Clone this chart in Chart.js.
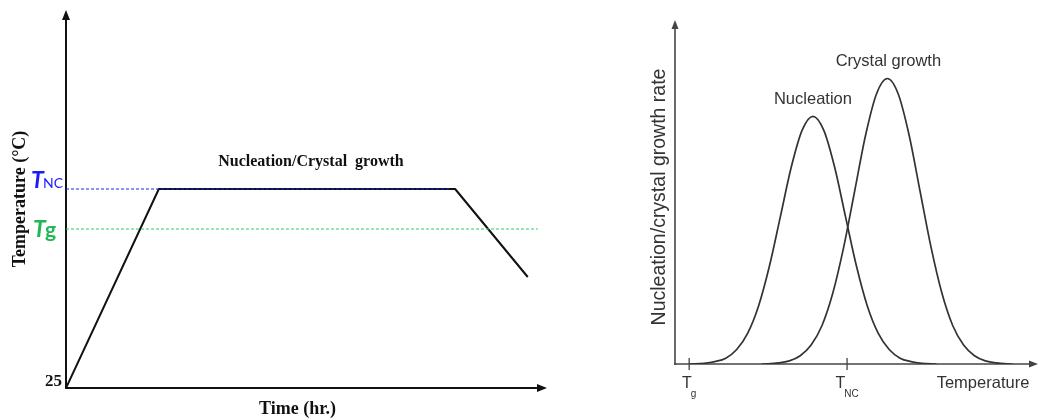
<!DOCTYPE html>
<html>
<head>
<meta charset="utf-8">
<script src="https://cdn.jsdelivr.net/npm/chart.js@4.4.1/dist/chart.umd.min.js"></script>
<style>
  html, body { margin: 0; padding: 0; background: #fff; width: 1039px; height: 418px; overflow: hidden; }
  #schedule { position: absolute; left: 0; top: 0; }
  #rates { position: absolute; left: 640px; top: 0; filter: blur(0.5px); }
</style>
</head>
<body>
<canvas id="schedule" width="560" height="418"></canvas>
<canvas id="rates" width="399" height="418"></canvas>
<script>
// ---- Heat-treatment schedule (time in relative units, temperature in °C) ----
const scheduleTime = [0, 19.3, 80.9, 96.0];
const scheduleTemp = [25, 224, 224, 136];
const roomTemp = 25;
const tempNC = 224;            // nucleation / crystal growth hold
const tempG = 184;             // glass transition
const ncGuideTime = [0, 80];
const gGuideTime = [0, 98.1];

// ---- Rate curves (temperature in relative units, rate in relative units) ----
const nucleationTemps = [4, 8, 11, 14, 17, 20, 23, 26, 29, 32, 35, 38, 41, 44, 47, 50, 53, 56, 59, 62, 65, 68, 72];
const nucleationRates = [0, 0.2, 0.7, 1.7, 4.2, 8.9, 16.8, 28.4, 42.7, 57.1, 67.9, 72, 67.9, 57.1, 42.7, 28.4, 16.8, 8.9, 4.2, 1.7, 0.7, 0.2, 0];
const growthTemps = [24, 28.5, 31.5, 34.5, 37.5, 40.5, 43.5, 46.5, 49.5, 52.5, 55.5, 58.5, 61.5, 64.5, 67.5, 70.5, 73.5, 76.5, 79.5, 82.5, 85.5, 88.5, 93];
const growthRates = [0, 0.3, 0.9, 2.4, 5.5, 11.2, 20.7, 34.1, 50.3, 66.5, 78.5, 83, 78.5, 66.5, 50.3, 34.1, 20.7, 11.2, 5.5, 2.4, 0.9, 0.3, 0];
const markTemps = [3.9, 47.4];
const markMain = ['T', 'T'];
const markSub = ['g', 'NC'];

const toXY = (xs, ys) => xs.map((x, i) => ({ x, y: ys[i] }));

function arrowLine(ctx, x0, y0, x1, y1, color, width, len, half) {
  const a = Math.atan2(y1 - y0, x1 - x0);
  ctx.save();
  ctx.strokeStyle = color;
  ctx.fillStyle = color;
  ctx.lineWidth = width;
  ctx.beginPath();
  ctx.moveTo(x0, y0);
  ctx.lineTo(x1 - Math.cos(a) * len * 0.6, y1 - Math.sin(a) * len * 0.6);
  ctx.stroke();
  ctx.beginPath();
  ctx.moveTo(x1, y1);
  ctx.lineTo(x1 - Math.cos(a) * len - Math.sin(a) * half, y1 - Math.sin(a) * len + Math.cos(a) * half);
  ctx.lineTo(x1 - Math.cos(a) * len + Math.sin(a) * half, y1 - Math.sin(a) * len - Math.cos(a) * half);
  ctx.closePath();
  ctx.fill();
  ctx.restore();
}

// Left panel: axes, labels, guide captions
const scheduleDecor = {
  id: 'scheduleDecor',
  beforeDatasetsDraw(chart) {
    const { ctx, chartArea: a } = chart;
    arrowLine(ctx, a.left, a.bottom + 1, a.left, a.top, '#111', 2, 10, 4);
    arrowLine(ctx, a.left - 1, a.bottom, a.right, a.bottom, '#111', 2, 10, 4);
  },
  afterDraw(chart) {
    const { ctx, chartArea: a, scales: { x, y } } = chart;
    ctx.save();
    ctx.fillStyle = '#111';
    ctx.textBaseline = 'middle';

    // 25 °C tick
    ctx.font = 'bold 17px "Liberation Serif", "Times New Roman", serif';
    ctx.textAlign = 'right';
    ctx.fillText(String(roomTemp), a.left - 4, y.getPixelForValue(roomTemp) - 6);

    // axis titles
    ctx.font = 'bold 18px "Liberation Serif", "Times New Roman", serif';
    ctx.textAlign = 'center';
    ctx.fillText('Time (hr.)', (a.left + a.right) / 2 - 9, a.bottom + 21);
    ctx.save();
    ctx.translate(20, (a.top + a.bottom) / 2);
    ctx.rotate(-Math.PI / 2);
    ctx.fillText('Temperature (°C)', 0, 0);
    ctx.restore();

    // hold caption
    ctx.font = 'bold 16px "Liberation Serif", "Times New Roman", serif';
    const holdMid = (x.getPixelForValue(scheduleTime[1]) + x.getPixelForValue(scheduleTime[2])) / 2;
    ctx.fillText('Nucleation/Crystal  growth', holdMid + 4, y.getPixelForValue(tempNC) - 27);

    // T_NC label
    ctx.textBaseline = 'alphabetic';
    ctx.textAlign = 'left';
    const yNC = y.getPixelForValue(tempNC);
    ctx.fillStyle = '#1a1aff';
    ctx.font = 'italic bold 23px Lato, "Open Sans", sans-serif';
    ctx.fillText('T', 31, yNC - 1);
    ctx.font = '14px Lato, "Open Sans", sans-serif';
    ctx.fillText('NC', 43, yNC - 1);

    // T_g label
    const yG = y.getPixelForValue(tempG);
    ctx.fillStyle = '#1fb854';
    ctx.font = 'italic bold 23px Lato, "Open Sans", sans-serif';
    ctx.fillText('T', 33, yG + 8);
    ctx.font = 'bold 21px Lato, "Open Sans", sans-serif';
    ctx.fillText('g', 45, yG + 8);
    ctx.restore();
  }
};

new Chart(document.getElementById('schedule'), {
  type: 'line',
  data: {
    datasets: [
      {
        data: toXY(gGuideTime, [tempG, tempG]),
        borderColor: '#2ecc6a', borderWidth: 1, borderDash: [3, 2],
        pointRadius: 0, tension: 0
      },
      {
        data: toXY(ncGuideTime, [tempNC, tempNC]),
        borderColor: '#2020ee', borderWidth: 1, borderDash: [3, 2],
        pointRadius: 0, tension: 0
      },
      {
        data: toXY(scheduleTime, scheduleTemp),
        borderColor: '#111', borderWidth: 2, borderJoinStyle: 'round',
        pointRadius: 0, tension: 0
      }
    ]
  },
  options: {
    responsive: false,
    animation: false,
    devicePixelRatio: 1,
    layout: { padding: { left: 66, right: 13, top: 10, bottom: 30 } },
    scales: {
      x: { type: 'linear', min: 0, max: 100, display: false },
      y: { type: 'linear', min: 25, max: 403, display: false }
    },
    plugins: { legend: { display: false }, tooltip: { enabled: false } }
  },
  plugins: [scheduleDecor]
});

// Right panel: axes, tick marks, labels
const rateDecor = {
  id: 'rateDecor',
  beforeDatasetsDraw(chart) {
    const { ctx, chartArea: a, scales: { x } } = chart;
    arrowLine(ctx, a.left, a.bottom + 1, a.left, a.top, '#444', 1.6, 9, 3.5);
    arrowLine(ctx, a.left - 1, a.bottom, a.right, a.bottom, '#444', 1.6, 9, 3.5);
    ctx.save();
    ctx.strokeStyle = '#444';
    ctx.lineWidth = 1.3;
    markTemps.forEach(t => {
      const px = x.getPixelForValue(t);
      ctx.beginPath();
      ctx.moveTo(px, a.bottom - 6);
      ctx.lineTo(px, a.bottom + 6);
      ctx.stroke();
    });
    ctx.restore();
  },
  afterDraw(chart) {
    const { ctx, chartArea: a, scales: { x, y } } = chart;
    ctx.save();
    ctx.fillStyle = '#333';
    const sans = '"Liberation Sans", Arial, sans-serif';

    // tick captions with subscripts
    ctx.textBaseline = 'alphabetic';
    markTemps.forEach((t, i) => {
      const px = x.getPixelForValue(t);
      ctx.font = '16px ' + sans;
      const wMain = ctx.measureText(markMain[i]).width;
      ctx.font = '10px ' + sans;
      const wSub = ctx.measureText(markSub[i]).width;
      const start = px - (wMain + wSub - 1) / 2;
      ctx.font = '16px ' + sans;
      ctx.textAlign = 'left';
      ctx.fillText(markMain[i], start, a.bottom + 24);
      ctx.font = '10px ' + sans;
      ctx.fillText(markSub[i], start + wMain - 1, a.bottom + 33);
    });

    // axis titles
    ctx.textBaseline = 'middle';
    ctx.textAlign = 'center';
    ctx.font = '16.5px ' + sans;
    ctx.fillText('Temperature', 343, a.bottom + 19);
    ctx.save();
    ctx.translate(20, 197);
    ctx.rotate(-Math.PI / 2);
    ctx.font = '19.5px ' + sans;
    ctx.fillText('Nucleation/crystal growth rate', 0, 0);
    ctx.restore();

    // curve captions above their peaks
    const nPeak = nucleationRates.indexOf(Math.max(...nucleationRates));
    const gPeak = growthRates.indexOf(Math.max(...growthRates));
    ctx.font = '16.5px ' + sans;
    ctx.fillText('Nucleation', x.getPixelForValue(nucleationTemps[nPeak]), y.getPixelForValue(nucleationRates[nPeak]) - 17);
    ctx.fillText('Crystal growth', x.getPixelForValue(growthTemps[gPeak]) + 1, y.getPixelForValue(growthRates[gPeak]) - 17);
    ctx.restore();
  }
};

new Chart(document.getElementById('rates'), {
  type: 'line',
  data: {
    datasets: [
      {
        label: 'Nucleation',
        data: toXY(nucleationTemps, nucleationRates),
        borderColor: '#333', borderWidth: 1.7,
        pointRadius: 0, cubicInterpolationMode: 'monotone'
      },
      {
        label: 'Crystal growth',
        data: toXY(growthTemps, growthRates),
        borderColor: '#333', borderWidth: 1.7,
        pointRadius: 0, cubicInterpolationMode: 'monotone'
      }
    ]
  },
  options: {
    responsive: false,
    animation: false,
    devicePixelRatio: 1,
    layout: { padding: { left: 35, right: 1, top: 20, bottom: 54 } },
    scales: {
      x: { type: 'linear', min: 0, max: 100, display: false },
      y: { type: 'linear', min: 0, max: 100, display: false }
    },
    plugins: { legend: { display: false }, tooltip: { enabled: false } }
  },
  plugins: [rateDecor]
});
</script>
</body>
</html>
